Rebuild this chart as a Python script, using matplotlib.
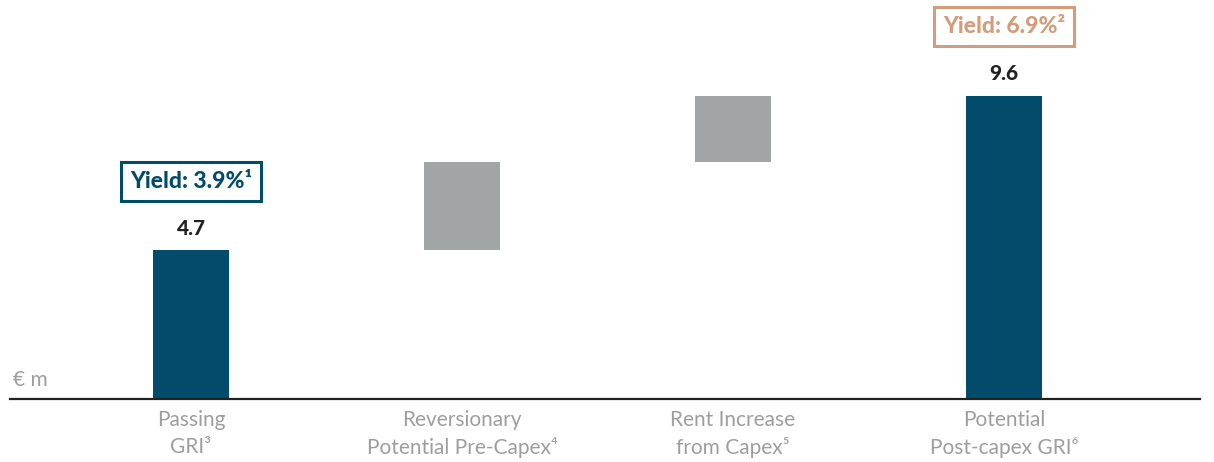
import numpy as np
import matplotlib.pyplot as plt

plt.rcParams['font.family'] = ['Lato', 'DejaVu Sans']

# data
categories = ['Passing\nGRI³', 'Reversionary\nPotential Pre-Capex⁴',
              'Rent Increase\nfrom Capex⁵', 'Potential\nPost-capex GRI⁶']
steps = [4.7, 2.8, 2.1]          # passing GRI, then the two increments
total = 9.6
yield_labels = {0: 'Yield: 3.9%¹', 3: 'Yield: 6.9%²'}

dark_blue = '#034B6B'
grey = '#A2A5A5'
tan = '#D39C7B'

values = steps + [total]
bottoms = [0, steps[0], steps[0] + steps[1], 0]
colors = [dark_blue, grey, grey, dark_blue]

fig = plt.figure(figsize=(12.14, 4.62), dpi=100)
ax = fig.add_axes([10 / 1214, 63 / 462, 1190 / 1214, 399 / 462])

x = np.arange(len(categories))
ax.bar(x, values, bottom=bottoms, width=0.28, color=colors)

ax.set_xlim(-0.668, 3.723)
ax.set_ylim(0, 399 / 31.6)

for s in ['top', 'right', 'left']:
    ax.spines[s].set_visible(False)
ax.spines['bottom'].set_color('#222222')
ax.spines['bottom'].set_linewidth(1.6)
ax.set_yticks([])
ax.set_xticks(x)
ax.set_xticklabels(categories, fontsize=15, color='#9E9E9E', linespacing=1.4)
ax.tick_params(axis='x', length=0, pad=8)

# value labels on the blue bars
for i in (0, 3):
    ax.text(x[i], values[i] + 0.4, f'{values[i]:.1f}', ha='center', va='bottom',
            fontsize=15, fontweight='black', color='#222222')

# yield boxes
for i, lab in yield_labels.items():
    c = dark_blue if i == 0 else tan
    ax.text(x[i], values[i] + 1.85, lab, ha='center', va='bottom',
            fontsize=16.5, fontweight='black', color=c,
            bbox=dict(boxstyle='square,pad=0.4', fc='white', ec=c, lw=2.2))

ax.text(-0.658, 0.3, '€ m', ha='left', va='bottom', fontsize=15,
        color='#9E9E9E')

fig.savefig('out.png', dpi=100)
